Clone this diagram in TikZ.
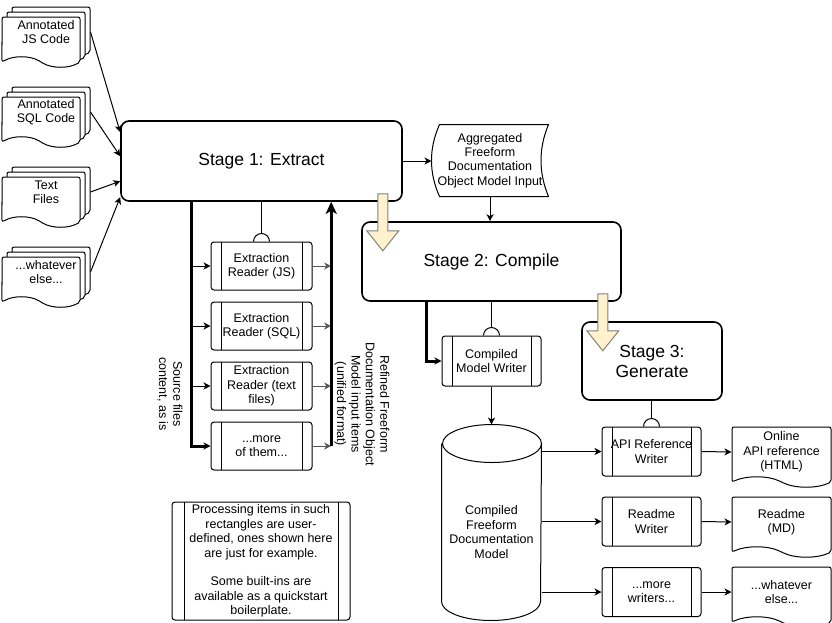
\documentclass[tikz,border=0pt]{standalone}
\usepackage{fontspec}
\setmainfont{Liberation Sans}
\usetikzlibrary{arrows.meta,shapes.symbols}
\definecolor{flowfill}{RGB}{255,242,204}

\begin{document}
\begin{tikzpicture}[x=1pt, y=-1pt, line width=1pt, >={Stealth[length=7pt,width=7pt,inset=2pt]},
    font=\fontsize{12.5}{14.4}\selectfont,
    stage/.style={draw, line width=1.6pt, rounded corners=8pt, fill=white, align=center, font=\fontsize{17.5}{20}\selectfont},
    process/.style={draw, fill=white, rounded corners=3pt, align=center, inner sep=1pt, minimum width=101pt, minimum height=48pt,
        path picture={\draw ([xshift=#1]path picture bounding box.north west) -- ([xshift=#1]path picture bounding box.south west)
            ([xshift=-#1]path picture bounding box.north east) -- ([xshift=-#1]path picture bounding box.south east);}},
    process/.default=10pt,
    page/.style={tape, draw, fill=white, rounded corners=2pt, tape bend top=none, tape bend bottom=out and in, tape bend height=10pt,
        minimum width=78pt, minimum height=50pt, align=center},
    stack/.style={align=center, minimum width=88pt, minimum height=60pt},
    bus/.style={line width=3pt},
    flow/.style={draw=black!50, fill=flowfill, line width=1pt}]

    \useasboundingbox (0,0) rectangle (832,622);

    % source files
    \node[page] at (51,27) (jsback) {};
    \node[page] at (46,32) (jsmid) {};
    \node[page] at (41,37) (jsfront) {};
    \node[stack] at (46,32) (jsdocs) {Annotated\\JS Code};

    \node[page] at (51,107) (sqlback) {};
    \node[page] at (46,112) (sqlmid) {};
    \node[page] at (41,117) (sqlfront) {};
    \node[stack] at (46,112) (sqldocs) {Annotated\\SQL Code};

    \node[page] at (51,187) (txtback) {};
    \node[page] at (46,192) (txtmid) {};
    \node[page] at (41,197) (txtfront) {};
    \node[stack] at (46,192) (txtdocs) {Text\\Files};

    \node[page] at (51,267) (anyback) {};
    \node[page] at (46,272) (anymid) {};
    \node[page] at (41,277) (anyfront) {};
    \node[stack] at (46,272) (anydocs) {...whatever\\else...};

    % stages
    \node[stage, minimum width=281pt, minimum height=80pt] at (261.5,161) (extract) {Stage 1: Extract};
    \node[stage, minimum width=259pt, minimum height=79pt] at (491.5,261.5) (compile) {Stage 2: Compile};
    \node[stage, minimum width=140pt, minimum height=78pt] at (652,361) (generate) {Stage 3:\\Generate};

    \node[align=center, minimum width=116pt, minimum height=71pt] at (490,160.5) (aggregated) {Aggregated\\Freeform\\Documentation\\Object Model Input};
    \draw ([xshift=8pt]aggregated.north west) -- (aggregated.north east)
        .. controls +(-10pt,-24pt) and +(-10pt,24pt) .. (aggregated.south east) -- ([xshift=8pt]aggregated.south west)
        .. controls +(-10.7pt,24pt) and +(-10.7pt,-24pt) .. ([xshift=8pt]aggregated.north west) -- cycle;

    % readers
    \node[process] at (261.5,266) (readjs) {Extraction\\Reader (JS)};
    \node[process] at (261.5,326) (readsql) {Extraction\\Reader (SQL)};
    \node[process] at (261.5,386) (readtext) {Extraction\\Reader (text\\files)};
    \node[process] at (261.5,446) (readmore) {...more\\of them...};

    \node[rotate=-90, align=center] at (170,394) (srclabel) {Source files\\content, as is};
    \node[rotate=-90, align=center] at (362,404) (outlabel) {Refined Freeform\\Documentation Object\\Model input items\\(unified format)};

    \node[process=12pt, minimum width=178pt, minimum height=118pt] at (261,561) (note) {Processing items in such\\rectangles are user-\\defined, ones shown here\\are just for example.\\[14.4pt]Some built-ins are\\available as a quickstart\\boilerplate.};

    % compile and generate
    \node[process, minimum width=99pt, minimum height=50pt] at (491.5,361) (modelwriter) {Compiled\\Model Writer};
    \node[align=center, minimum width=99pt, minimum height=176pt] at (491.5,532) (model) {Compiled\\Freeform\\Documentation\\Model};
    \draw (model.north west) -- ([yshift=19pt]model.south west) arc[start angle=180, end angle=360, x radius=49.5pt, y radius=19pt]
        -- (model.north east) arc[start angle=0, end angle=180, x radius=49.5pt, y radius=19pt]
        arc[start angle=180, end angle=360, x radius=49.5pt, y radius=19pt];

    \node[process, minimum width=99pt, minimum height=49pt] at (651.5,451.5) (apiwriter) {API Reference\\Writer};
    \node[process, minimum width=99pt, minimum height=49pt] at (651.5,521.5) (readmewriter) {Readme\\Writer};
    \node[process, minimum width=99pt, minimum height=49pt] at (651.5,592) (morewriter) {...more\\writers...};

    \node[page, minimum width=99pt, minimum height=60pt] at (781.5,452) (htmldoc) {Online\\API reference\\(HTML)};
    \node[page, minimum width=99pt, minimum height=60pt] at (781.5,522) (mddoc) {Readme\\(MD)};
    \node[page, minimum width=99pt, minimum height=60pt] at (781.5,592) (anyoutdoc) {...whatever\\else...};

    % connectors
    \path[->] (jsdocs.east) edge ([yshift=-12pt]extract.north west);
    \path[->] (sqldocs.east) edge ([yshift=-36pt]extract.north west);
    \path[->] (txtdocs.east) edge ([yshift=-61pt]extract.north west);
    \path[->] (anydocs.east) edge ([yshift=-77pt]extract.north west);
    \path[->] (extract.east) edge (extract.east -| aggregated.west);
    \path[->] (aggregated.south) edge (aggregated.south |- compile.north);

    \coordinate (srcbus) at ([xshift=71pt]extract.south west);
    \coordinate (outbus) at ([xshift=211pt]extract.south west);
    \draw[bus, ->] (srcbus) |- (readmore.west);
    \path[->] (srcbus |- readjs.west) edge (readjs.west);
    \path[->] (srcbus |- readsql.west) edge (readsql.west);
    \path[->] (srcbus |- readtext.west) edge (readtext.west);
    \path[->, black!65] (readjs.east) edge (readjs.east -| outbus);
    \path[->, black!65] (readsql.east) edge (readsql.east -| outbus);
    \path[->, black!65] (readtext.east) edge (readtext.east -| outbus);
    \path[->, black!65] (readmore.east) edge (readmore.east -| outbus);
    \draw[bus, -{Stealth[length=12pt,width=11pt,inset=3pt]}] (outbus |- readmore.east) -- (outbus);

    \draw (readjs.north |- extract.south) -- ([yshift=8pt]readjs.north);
    \draw ([xshift=-8pt]readjs.north) arc[start angle=180, end angle=0, radius=8pt];
    \draw (modelwriter.north |- compile.south) -- ([yshift=8pt]modelwriter.north);
    \draw ([xshift=-8pt]modelwriter.north) arc[start angle=180, end angle=0, radius=8pt];
    \draw (apiwriter.north |- generate.south) -- ([yshift=8pt]apiwriter.north);
    \draw ([xshift=-8pt]apiwriter.north) arc[start angle=180, end angle=0, radius=8pt];

    \draw[bus, ->] ([xshift=65pt]compile.south west) |- (modelwriter.west);
    \path[->] (modelwriter.south) edge ([yshift=19pt]model.north);

    \path[->] (model.east |- apiwriter.west) edge (apiwriter.west);
    \path[->] (model.east |- readmewriter.west) edge (readmewriter.west);
    \path[->] (model.east |- morewriter.west) edge (morewriter.west);
    \path[->] (apiwriter.east) edge (htmldoc.west);
    \path[->] (readmewriter.east) edge (mddoc.west);
    \path[->] (morewriter.east) edge (anyoutdoc.west);

    % stage hand-over
    \draw[flow, shift={(extract.south east)}] (-25,-8) -- (-15,-8) -- (-15,29) -- (-4,29) -- (-20,49) -- (-36,29) -- (-25,29) -- cycle;
    \draw[flow, shift={(compile.south east)}] (-24,-8) -- (-14,-8) -- (-14,29) -- (-3,29) -- (-19,49) -- (-35,29) -- (-24,29) -- cycle;
\end{tikzpicture}
\end{document}
